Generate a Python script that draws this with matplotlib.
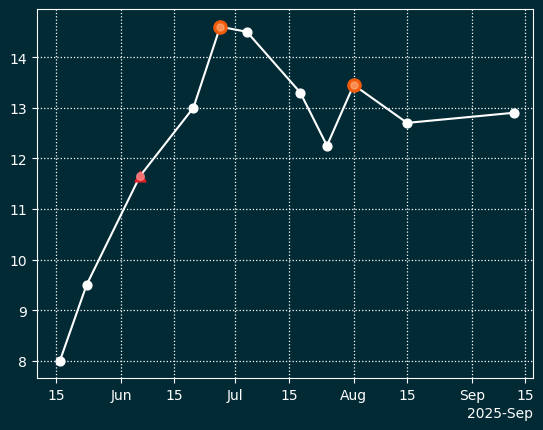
import matplotlib
matplotlib.use("Agg")
import matplotlib.pyplot as plt
import matplotlib.dates as mdates
import numpy as np
import pandas as pd

BG = "#022a35"

dates = pd.to_datetime(["2025-05-16", "2025-05-23", "2025-06-06", "2025-06-20",
                        "2025-06-27", "2025-07-04", "2025-07-18", "2025-07-25",
                        "2025-08-01", "2025-08-15", "2025-09-12"])
values = [8.0, 9.5, 11.65, 13.0, 14.6, 14.5, 13.3, 12.25, 13.45, 12.7, 12.9]
peak_idx = [4, 8]
warn_idx = [2]

fig = plt.figure(figsize=(5.43, 4.31), dpi=100, facecolor=BG)
ax = fig.add_axes([37 / 543, 52 / 431, 496 / 543, 369 / 431], facecolor=BG)

ax.plot(dates, values, color="white", lw=1.5, zorder=2)
mask = [i for i in range(len(values)) if i not in peak_idx + warn_idx]
ax.scatter(dates[mask], np.array(values)[mask], s=40, color="white", zorder=3)
ax.scatter(dates[peak_idx], np.array(values)[peak_idx], s=90, color="#f25c0c", zorder=3)
ax.scatter(dates[peak_idx], np.array(values)[peak_idx], s=25, color="#ffb080", alpha=0.6, zorder=4)
ax.scatter(dates[warn_idx], np.array(values)[warn_idx], s=60, marker="^", color="#e0202a", zorder=3)
ax.scatter(dates[warn_idx], np.array(values)[warn_idx], s=30, color="#ff9090", alpha=0.7, zorder=4)

ax.set_xlim(pd.Timestamp("2025-05-10"), pd.Timestamp("2025-09-17"))
ax.set_ylim(7.66, 14.95)
loc = mdates.AutoDateLocator()
ax.xaxis.set_major_locator(loc)
ax.xaxis.set_major_formatter(mdates.ConciseDateFormatter(loc))

ax.grid(True, color="white", linestyle=":", lw=0.9)
for s in ax.spines.values():
    s.set_color("white")
ax.tick_params(colors="white")
ax.xaxis.get_offset_text().set_color("white")

fig.savefig("out.png", facecolor=BG)
